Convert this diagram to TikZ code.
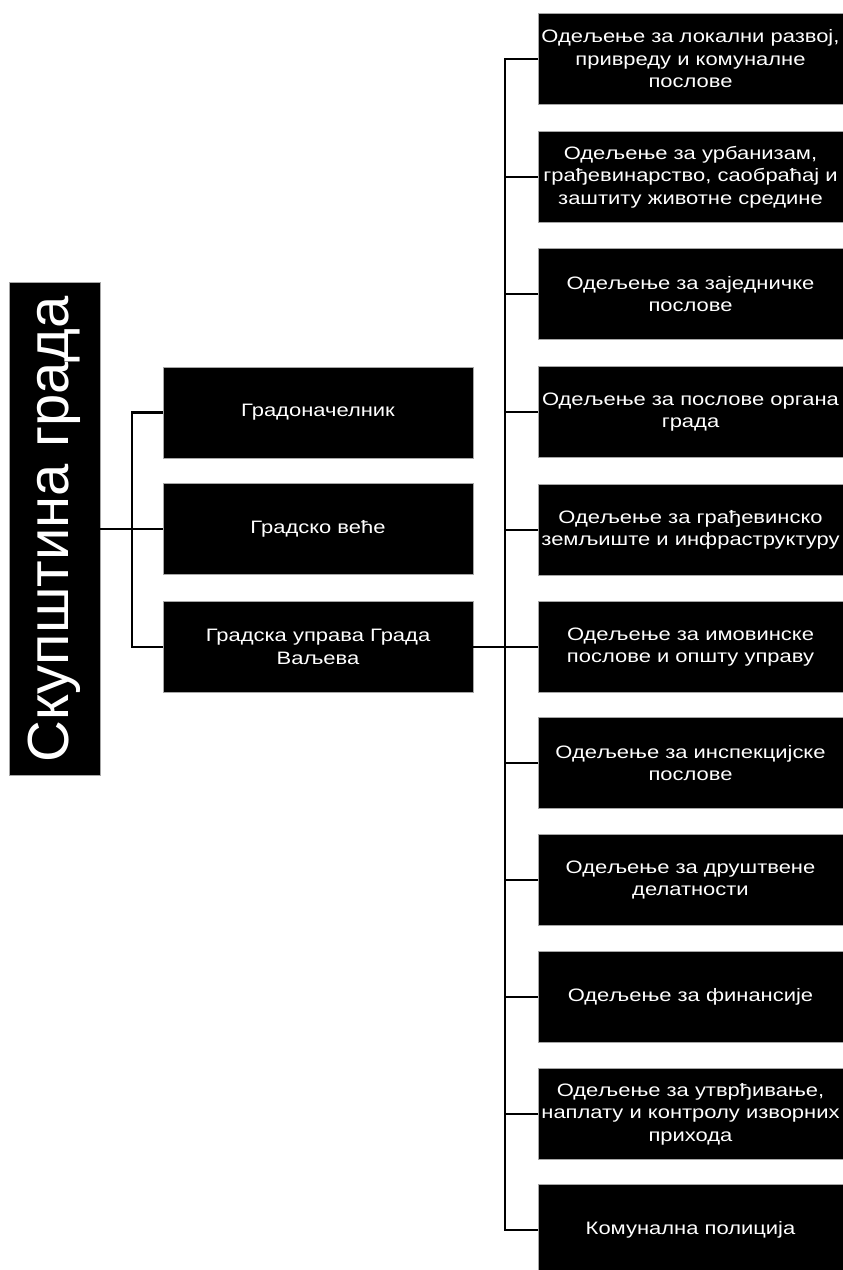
\documentclass[tikz,border=0pt]{standalone}
\usepackage{fontspec}
\setmainfont{Liberation Sans}[FakeStretch=1.22]
\newfontfamily\bigsans{Liberation Sans}
\usetikzlibrary{positioning}

\begin{document}
\begin{tikzpicture}[x=1pt, y=-1pt,
  dept/.style={draw=gray!70, line width=0.6pt, fill=black, text=white,
               minimum width=305pt, minimum height=91pt, inner sep=0pt,
               align=center, font=\fontsize{18}{22.5}\selectfont},
  mid/.style={dept, minimum width=310pt},
  conn/.style={line width=2.8pt, black},
]
\useasboundingbox (0,0) rectangle (843,1270);

% --- Left column: assembly ---
\node[dept, minimum width=91pt, minimum height=493pt] (skup) at (54.5,529)
  {\rotatebox{90}{\bigsans\fontsize{58}{60}\selectfont Скупштина града}};

% --- Middle column ---
\node[mid] (mayor) at (318,412.5) {Градоначелник};
\node[mid] (council) at (318,529) {Градско веће};
\node[mid] (admin) at (318,647) {Градска управа Града\\Ваљева};

% --- Right column: departments ---
\node[dept] (d1) at (690.5,59) {Одељење за локални развој,\\привреду и комуналне\\послове};
\node[dept] (d2) at (690.5,177) {Одељење за урбанизам,\\грађевинарство, саобраћај и\\заштиту животне средине};
\node[dept] (d3) at (690.5,294) {Одељење за заједничке\\послове};
\node[dept] (d4) at (690.5,412) {Одељење за послове органа\\града};
\node[dept] (d5) at (690.5,530) {Одељење за грађевинско\\земљиште и инфраструктуру};
\node[dept] (d6) at (690.5,647) {Одељење за имовинске\\послове и општу управу};
\node[dept] (d7) at (690.5,763) {Одељење за инспекцијске\\послове};
\node[dept] (d8) at (690.5,880) {Одељење за друштвене\\делатности};
\node[dept] (d9) at (690.5,997) {Одељење за финансије};
\node[dept] (d10) at (690.5,1114) {Одељење за утврђивање,\\наплату и контролу изворних\\прихода};
\node[dept] (d11) at (690.5,1230) {Комунална полиција};

% --- Connectors ---
\coordinate (lbr) at (132,529);
\coordinate (trunk) at (505,647);
\draw[conn] (skup.east) -- (council.west);
\draw[conn] (mayor.west) -| (lbr) |- (admin.west);
\draw[conn] (admin.east) -- (trunk);
\draw[conn] (d1.west) -| (trunk) |- (d11.west);
\draw[conn] (d2.west) -- (d2.west -| trunk);
\draw[conn] (d3.west) -- (d3.west -| trunk);
\draw[conn] (d4.west) -- (d4.west -| trunk);
\draw[conn] (d5.west) -- (d5.west -| trunk);
\draw[conn] (d6.west) -- (d6.west -| trunk);
\draw[conn] (d7.west) -- (d7.west -| trunk);
\draw[conn] (d8.west) -- (d8.west -| trunk);
\draw[conn] (d9.west) -- (d9.west -| trunk);
\draw[conn] (d10.west) -- (d10.west -| trunk);
\end{tikzpicture}
\end{document}
